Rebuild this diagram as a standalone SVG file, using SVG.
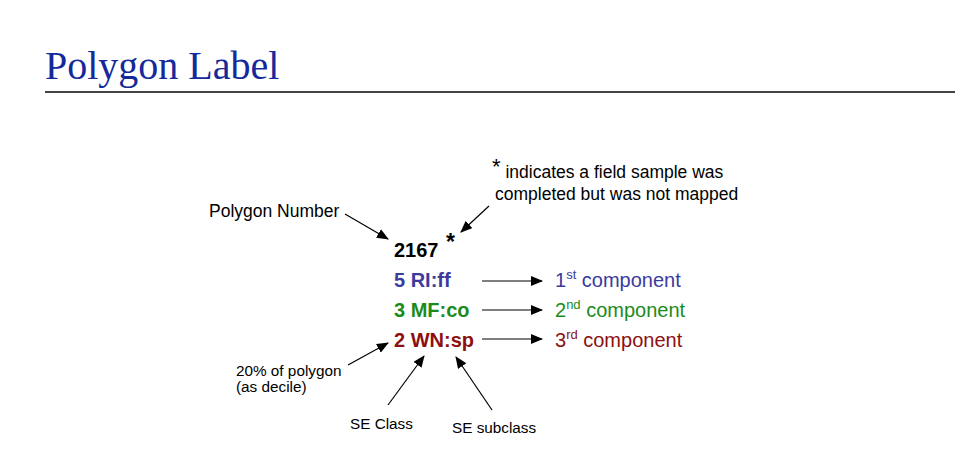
<svg xmlns="http://www.w3.org/2000/svg" width="972" height="471" viewBox="0 0 972 471">
<defs>
<style>
.t{font-family:"Liberation Sans",Arial,sans-serif;fill:#000}
.s17{font-size:17.5px}
.s15{font-size:15.3px}
.b{font-weight:bold;font-size:20px}
.n{font-size:20px}
.blue{fill:#3b3b9e}
.green{fill:#1b8c1b}
.red{fill:#8c1010}
.c{stroke:#000;stroke-width:1.2;fill:none;marker-end:url(#ah)}
</style>
<marker id="ah" markerUnits="userSpaceOnUse" markerWidth="12" markerHeight="10" viewBox="0 0 12 10" refX="11" refY="5" orient="auto">
<path d="M0,0 L12,5 L0,10 z" fill="#000"/>
</marker>
</defs>
<rect width="972" height="471" fill="#fff"/>
<g id="title">
<text x="45" y="79" font-family="'Liberation Serif','Times New Roman',serif" font-size="40" fill="#14299a">Polygon Label</text>
<line x1="45" y1="92" x2="955" y2="92" stroke="#444" stroke-width="2"/>
</g>
<g id="polygon-number-label"><text class="t s17" x="209" y="217">Polygon Number</text></g>
<g id="note">
<text class="t s17" x="492" y="178"><tspan font-size="22" dy="-4">*</tspan><tspan dy="4"> indicates a field sample was</tspan></text>
<text class="t s17" x="495" y="200">completed but was not mapped</text>
</g>
<g id="polygon-number"><text class="t b" x="394" y="257" font-size="21">2167 <tspan x="446" dy="-7" font-size="23">*</tspan></text></g>
<g id="comp1"><text class="t b blue" x="394" y="287">5 RI:ff</text></g>
<g id="comp2"><text class="t b green" x="394" y="317">3 MF:co</text></g>
<g id="comp3"><text class="t b red" x="394" y="347">2 WN:sp</text></g>
<g id="label1"><text class="t n blue" x="555" y="287">1<tspan font-size="13" dy="-8">st</tspan><tspan dy="8"> component</tspan></text></g>
<g id="label2"><text class="t n green" x="555" y="317">2<tspan font-size="13" dy="-8">nd</tspan><tspan dy="8"> component</tspan></text></g>
<g id="label3"><text class="t n red" x="555" y="347">3<tspan font-size="13" dy="-8">rd</tspan><tspan dy="8"> component</tspan></text></g>
<g id="decile"><text class="t s15" x="236" y="376">20% of polygon</text><text class="t s15" x="236" y="392">(as decile)</text></g>
<g id="se-class"><text class="t s15" x="350" y="429">SE Class</text></g>
<g id="se-subclass"><text class="t s15" x="452" y="433">SE subclass</text></g>
<g id="connectors">
<line class="c" x1="345" y1="214" x2="388" y2="239"/>
<line class="c" x1="489" y1="206" x2="461" y2="232"/>
<line class="c" x1="482" y1="281" x2="542" y2="281"/>
<line class="c" x1="482" y1="310" x2="542" y2="310"/>
<line class="c" x1="482" y1="339" x2="542" y2="339"/>
<line class="c" x1="348" y1="365" x2="388" y2="343"/>
<line class="c" x1="388" y1="405" x2="424" y2="356"/>
<line class="c" x1="492" y1="410" x2="456" y2="357"/>
</g>
</svg>
